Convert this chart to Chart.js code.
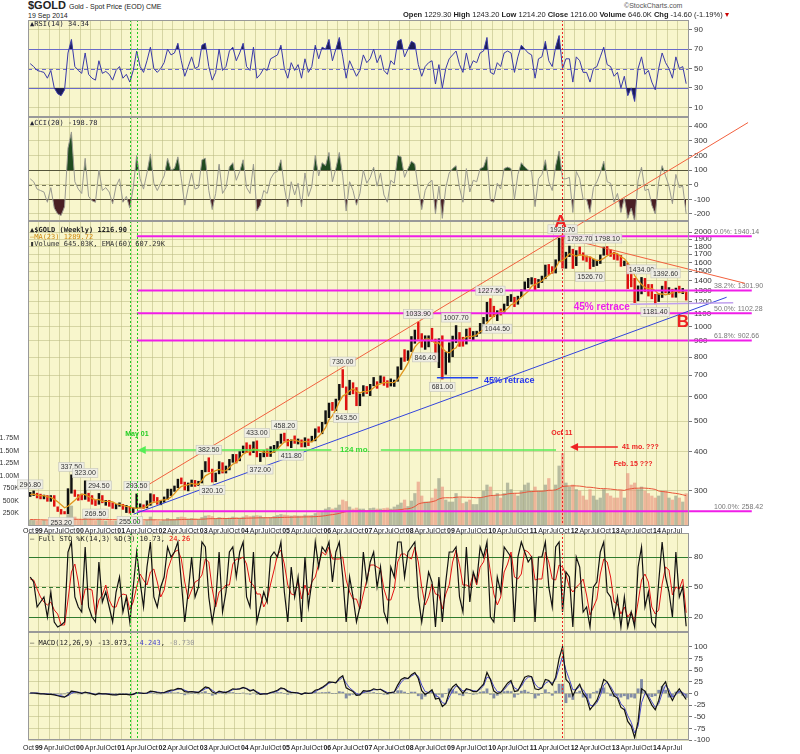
<!DOCTYPE html>
<html>
<head>
<meta charset="utf-8">
<script src="https://cdn.jsdelivr.net/npm/chart.js@4.4.1/dist/chart.umd.min.js"></script>
<style>
  body { margin: 0; background: #fff; width: 800px; height: 754px; position: relative; overflow: hidden; font-family: "Liberation Sans", Arial, sans-serif; }
  canvas { position: absolute; left: 0; }
  .t { position: absolute; white-space: nowrap; font-size: 7px; color: #222; z-index: 10; line-height: 1; }
  .m { font-family: "DejaVu Sans Mono", monospace; }
</style>
</head>
<body>
<canvas id="rsi" width="800" height="97" style="top:20px"></canvas>
<canvas id="cci" width="800" height="104" style="top:117px"></canvas>
<canvas id="sto" width="800" height="99" style="top:533px"></canvas>
<canvas id="macd" width="800" height="122" style="top:632px"></canvas>
<canvas id="price" width="800" height="440" style="top:100px"></canvas>

<div class="t" style="left:28px;top:0px;font-size:11px;font-weight:bold">$GOLD <span style="font-size:7px;font-weight:normal">Gold - Spot Price (EOD) CME</span></div>
<div class="t" style="left:28px;top:12px">19 Sep 2014</div>
<div class="t" style="left:624px;top:2px;color:#555">&copy;StockCharts.com</div>
<div class="t" style="left:403px;top:11px;font-size:7.5px"><b>Open</b> 1229.30 <b>High</b> 1243.20 <b>Low</b> 1214.20 <b>Close</b> 1216.00 <b>Volume</b> 646.0K <b>Chg</b> -14.60 (-1.19%) <span style="color:#c00">&#9662;</span></div>

<div class="t m" style="left:30px;top:21px;color:#223">&#9650;RSI(14) 34.34</div>
<div class="t m" style="left:30px;top:120px;color:#223">&#9650;CCI(20) -198.78</div>
<div class="t m" style="left:30px;top:227px;font-weight:bold">&#9650;$GOLD (Weekly) 1216.90</div>
<div class="t m" style="left:30px;top:234px;color:#d08a10">&mdash;MA(23) 1289.72</div>
<div class="t m" style="left:30px;top:241px;color:#333">&#9646;Volume 645.03K, EMA(60) 607.29K</div>
<div class="t m" style="left:30px;top:536px">&mdash; Full STO %K(14,3) %D(3) 10.73, <span style="color:#e00">24.26</span></div>
<div class="t m" style="left:30px;top:640px">&mdash; MACD(12,26,9) -13.073, <span style="color:#44c">-4.243</span>, <span style="color:#999">-8.730</span></div>

<script>
// monthly bars, Oct 1998 .. Sep 2014
const hi = [296.8, 300, 295,
  293, 291, 290, 290, 290, 267, 262, 258, 305, 337.5, 302, 292,
  293, 323, 295, 290, 280, 294.5, 290, 280, 280, 275, 272, 275,
  272, 270, 268, 265, 293.5, 273, 271, 279, 294, 292, 286, 280,
  287, 304, 304, 311, 327, 330, 320, 318, 325, 324, 322, 349,
  372, 382.5, 352, 342, 372, 369, 360, 378, 392, 392, 400, 417,
  427, 420, 430, 433, 395, 403, 408, 415, 419, 431, 455, 458.2,
  438, 436, 449, 439, 436, 443, 439, 448, 473, 480, 496, 540,
  571, 574, 588, 655, 730, 643, 675, 663, 640, 610, 649, 645,
  655, 689, 668, 697, 692, 673, 682, 676, 745, 795, 845, 838,
  930, 975, 1033.9, 950, 935, 935, 988, 913, 915, 935, 830, 888,
  933, 1007.7, 958, 925, 982, 990, 965, 967, 1024, 1070, 1195, 1227.5,
  1161, 1124, 1138, 1180, 1249, 1265, 1240, 1250, 1310, 1388, 1424, 1432,
  1424, 1413, 1448, 1570, 1577, 1552, 1632, 1913, 1923.7, 1725, 1804, 1763,
  1745, 1792.7, 1718, 1679, 1666, 1640, 1627, 1691, 1790, 1798.1, 1755, 1725,
  1697, 1684, 1617, 1590, 1487, 1424, 1348, 1434, 1424, 1362, 1362, 1267,
  1270, 1345, 1392.6, 1331, 1315, 1326, 1345, 1323, 1290];
const lo = [288, 290, 285,
  283, 283, 278, 278, 268, 258, 253.2, 253.5, 254, 295, 288, 280,
  281, 282, 278, 272, 269.5, 272, 275, 270, 268, 264, 263, 268,
  262, 256, 255, 256, 264, 265, 264, 265, 270, 278, 272, 271,
  276, 282, 290, 299, 307, 316, 302, 300, 310, 310, 312, 318,
  345, 345, 320.1, 321, 340, 342, 342, 350, 370, 368, 374, 397,
  397, 390, 397, 385, 372, 385, 386, 386, 398, 408, 425, 432,
  417, 411.8, 425, 423, 414, 414, 418, 430, 433, 461, 456, 490,
  513, 541, 540, 583, 640, 543.5, 607, 611, 560, 560, 601, 612,
  603, 648, 636, 662, 650, 641, 647, 645, 670, 730, 775, 780,
  833, 885, 911, 860, 846.4, 862, 897, 775, 740, 681, 705, 770,
  802, 890, 865, 866, 880, 915, 905, 930, 952, 998, 1040, 1075,
  1075, 1044.5, 1088, 1110, 1165, 1202, 1157, 1178, 1245, 1305, 1330, 1365,
  1309, 1330, 1381, 1420, 1462, 1478, 1481, 1611, 1535, 1533, 1670, 1531,
  1563, 1688, 1627, 1611, 1526.7, 1553, 1564, 1588, 1687, 1693, 1672, 1636,
  1627, 1555, 1562, 1321, 1338, 1192, 1208, 1271, 1292, 1251, 1226, 1181.4,
  1202, 1238, 1280, 1268, 1240, 1240, 1281, 1273, 1214.2];
const cl = [292, 294, 288,
  287, 287, 280, 286, 271, 261, 255, 254, 298, 300, 292, 290,
  284, 294, 278, 275, 273, 289, 277, 278, 274, 266, 270, 273,
  265, 267, 258, 264, 268, 270, 266, 274, 292, 279, 276, 278,
  282, 297, 302, 309, 326, 318, 304, 312, 324, 317, 318, 348,
  368, 348, 336, 339, 364, 346, 354, 375, 388, 386, 398, 416,
  401, 397, 427, 387, 393, 393, 391, 409, 416, 429, 452, 438,
  422, 435, 429, 436, 417, 436, 430, 433, 472, 470, 495, 517,
  569, 556, 583, 654, 643, 614, 633, 625, 598, 604, 646, 632,
  651, 664, 663, 677, 659, 650, 666, 672, 744, 793, 783, 834,
  923, 971, 917, 864, 886, 928, 914, 833, 880, 717, 814, 882,
  927, 942, 916, 883, 979, 927, 954, 955, 1002, 1040, 1182, 1096,
  1081, 1118, 1113, 1180, 1213, 1244, 1181, 1248, 1307, 1357, 1385, 1421,
  1332, 1409, 1439, 1563, 1536, 1502, 1628, 1825, 1620, 1710, 1746, 1566,
  1738, 1711, 1669, 1664, 1560, 1604, 1615, 1691, 1773, 1718, 1713, 1675,
  1663, 1578, 1595, 1472, 1393, 1234, 1313, 1396, 1327, 1323, 1253, 1202,
  1244, 1326, 1284, 1296, 1250, 1322, 1283, 1287, 1216];
const ma23 = [292, 293, 291,
  290, 290, 287, 286, 282, 277, 271, 265, 268, 274, 280, 287,
  293, 292, 288, 284, 281, 282, 278, 278, 278, 277, 273, 272,
  270, 268, 267, 265, 264, 265, 265, 268, 274, 276, 277, 280,
  281, 282, 287, 294, 303, 310, 312, 314, 317, 315, 315, 324,
  335, 340, 344, 348, 351, 347, 348, 356, 365, 370, 380, 393,
  398, 400, 408, 406, 401, 399, 398, 395, 400, 408, 419, 429,
  431, 435, 435, 432, 428, 431, 430, 430, 438, 448, 460, 477,
  505, 521, 544, 576, 601, 610, 625, 634, 623, 615, 621, 621,
  626, 639, 651, 657, 663, 663, 663, 665, 678, 705, 732, 765,
  815, 861, 886, 902, 912, 913, 902, 885, 888, 854, 832, 825,
  844, 856, 896, 910, 929, 929, 932, 940, 963, 976, 1027, 1055,
  1080, 1103, 1118, 1118, 1141, 1174, 1186, 1213, 1239, 1267, 1296, 1344,
  1360, 1381, 1397, 1433, 1456, 1490, 1534, 1611, 1622, 1657, 1706, 1693,
  1676, 1694, 1686, 1670, 1668, 1642, 1622, 1627, 1649, 1680, 1702, 1714,
  1708, 1669, 1645, 1597, 1540, 1454, 1401, 1362, 1333, 1319, 1322, 1300,
  1270, 1270, 1262, 1270, 1280, 1296, 1287, 1288, 1290];
// weekly volume, thousands
const vol = [120, 110, 100,
  100, 110, 100, 120, 110, 130, 140, 120, 240, 400, 180, 120,
  120, 220, 140, 120, 110, 140, 110, 100, 110, 100, 100, 100,
  110, 120, 120, 120, 180, 120, 100, 110, 180, 120, 100, 90,
  110, 150, 130, 130, 170, 180, 170, 140, 150, 140, 130, 170,
  200, 210, 190, 150, 170, 160, 150, 160, 180, 170, 160, 180,
  210, 190, 200, 210, 200, 170, 170, 170, 190, 210, 230, 220,
  210, 200, 210, 200, 200, 220, 210, 210, 250, 270, 290, 340,
  370, 340, 360, 420, 520, 490, 380, 340, 360, 340, 340, 300,
  350, 360, 340, 340, 350, 360, 340, 380, 420, 460, 520, 390,
  500, 650, 880, 600, 480, 480, 560, 740, 950, 780, 520, 480,
  480, 650, 560, 450, 480, 520, 430, 430, 560, 700, 820, 780,
  600, 650, 560, 650, 860, 730, 650, 600, 700, 820, 860, 700,
  780, 700, 700, 820, 950, 700, 820, 1200, 1450, 860, 780, 820,
  730, 700, 600, 520, 730, 600, 520, 560, 730, 650, 600, 560,
  560, 700, 560, 1050, 820, 860, 730, 780, 700, 650, 600, 560,
  600, 700, 700, 560, 520, 600, 560, 480, 646];
const volEma = [130, 128, 126,
  124, 122, 120, 120, 119, 119, 120, 120, 124, 133, 135, 134,
  133, 136, 136, 135, 134, 134, 132, 130, 129, 127, 126, 124,
  123, 123, 122, 122, 124, 124, 123, 122, 124, 124, 123, 121,
  121, 122, 123, 124, 126, 129, 131, 132, 133, 134, 134, 136,
  140, 145, 147, 147, 148, 149, 149, 150, 151, 152, 152, 153,
  156, 158, 160, 162, 164, 164, 165, 165, 166, 168, 171, 173,
  175, 176, 178, 179, 180, 182, 183, 184, 187, 192, 198, 207,
  219, 228, 238, 252, 272, 289, 297, 299, 302, 303, 304, 304,
  305, 307, 308, 309, 310, 312, 313, 315, 320, 328, 340, 343,
  360, 390, 440, 460, 470, 475, 485, 505, 540, 560, 565, 565,
  565, 575, 580, 578, 575, 575, 570, 565, 568, 578, 595, 608,
  612, 618, 620, 625, 642, 650, 655, 655, 660, 672, 685, 688,
  694, 695, 696, 702, 714, 715, 722, 750, 790, 798, 800, 804,
  802, 798, 790, 776, 775, 768, 756, 748, 748, 744, 738, 730,
  722, 720, 712, 735, 745, 755, 756, 760, 757, 752, 744, 732,
  700, 690, 682, 672, 660, 652, 640, 625, 607.29];
const rsi = [55, 52, 48,
  47, 46, 40, 48, 30, 24, 22, 28, 66, 80, 52, 48,
  45, 66, 44, 40, 38, 58, 45, 47, 44, 38, 48, 52,
  40, 44, 36, 48, 68, 52, 46, 58, 72, 50, 46, 50,
  56, 70, 64, 66, 76, 58, 42, 52, 62, 50, 52, 74,
  76, 52, 38, 46, 70, 48, 52, 68, 72, 58, 66, 76,
  52, 48, 72, 40, 44, 50, 48, 60, 62, 64, 74, 50,
  40, 56, 48, 54, 40, 60, 46, 52, 74, 60, 72, 70,
  80, 58, 70, 82, 62, 40, 58, 50, 42, 48, 64, 56,
  60, 70, 56, 64, 48, 44, 58, 54, 78, 80, 62, 70,
  78, 76, 54, 42, 52, 56, 58, 34, 54, 30, 50, 60,
  64, 68, 54, 46, 66, 50, 58, 56, 66, 68, 82, 46,
  44, 56, 52, 66, 68, 66, 46, 62, 74, 70, 66, 64,
  40, 60, 62, 78, 58, 52, 72, 84, 50, 60, 60, 36,
  62, 58, 46, 46, 36, 50, 52, 62, 72, 54, 52, 42,
  46, 30, 42, 22, 30, 16, 50, 62, 44, 48, 36, 28,
  50, 66, 56, 50, 40, 62, 50, 52, 34.34];
const cci = [40, 20, -30,
  -40, -50, -120, -20, -160, -200, -210, -150, 250, 360, 20, -30,
  -60, 180, -80, -110, -120, 100, -40, -20, -50, -130, -10, 40,
  -120, -80, -160, -20, 200, 40, -30, 80, 210, 10, -40, 10,
  60, 180, 100, 110, 190, 40, -140, -20, 80, -30, -20, 170,
  180, -40, -170, -60, 140, -60, -20, 120, 150, 30, 90, 170,
  -20, -60, 140, -180, -140, -40, -60, 40, 80, 90, 170, -20,
  -150, 20, -70, 10, -150, 80, -80, -10, 200, 60, 150, 130,
  220, 20, 110, 220, 60, -180, 20, -40, -140, -60, 100, 10,
  50, 120, -10, 80, -70, -120, 30, 10, 200, 190, 50, 110,
  160, 140, -30, -170, -40, 10, 30, -200, -10, -230, -20, 80,
  110, 130, -20, -120, 110, -50, 30, 20, 110, 120, 190, -110,
  -120, 10, -30, 110, 120, 110, -100, 70, 150, 120, 100, 90,
  -150, 40, 70, 170, 20, -40, 130, 230, 40, 40, 50, -190,
  90, 40, -100, -100, -190, -20, 20, 80, 160, 20, 10, -120,
  -60, -190, -90, -230, -160, -250, 30, 120, -40, -30, -140, -200,
  20, 130, 60, -10, -130, 70, -20, -10, -198.78];
const stoK = [60, 55, 30,
  35, 40, 20, 45, 15, 10, 12, 15, 85, 95, 40, 30,
  25, 90, 30, 20, 15, 75, 35, 45, 30, 15, 45, 60,
  25, 40, 15, 50, 85, 55, 30, 70, 95, 40, 30, 50,
  60, 90, 80, 85, 95, 55, 15, 45, 80, 40, 50, 95,
  90, 40, 15, 35, 85, 25, 45, 85, 90, 60, 85, 95,
  40, 30, 85, 15, 30, 45, 35, 80, 85, 80, 95, 45,
  15, 70, 40, 60, 15, 80, 30, 55, 95, 70, 90, 85,
  95, 55, 85, 95, 60, 15, 60, 40, 15, 30, 85, 55,
  75, 85, 50, 70, 25, 15, 70, 60, 95, 95, 60, 85,
  90, 95, 40, 15, 40, 65, 55, 10, 60, 15, 55, 85,
  85, 90, 40, 25, 90, 35, 65, 55, 90, 80, 95, 20,
  15, 60, 45, 90, 85, 80, 15, 80, 95, 85, 75, 80,
  15, 80, 80, 95, 50, 30, 90, 95, 25, 65, 60, 10,
  80, 70, 25, 30, 10, 50, 55, 85, 95, 45, 40, 20,
  40, 10, 40, 10, 25, 10, 70, 90, 30, 45, 15, 10,
  55, 95, 60, 45, 20, 85, 40, 50, 10.73];
const stoD = [58, 57, 48,
  40, 35, 32, 35, 27, 23, 12, 12, 37, 65, 73, 55,
  32, 48, 48, 47, 22, 37, 42, 52, 37, 30, 30, 40,
  43, 42, 27, 35, 50, 63, 57, 52, 65, 68, 55, 40,
  47, 67, 77, 85, 87, 78, 55, 38, 47, 55, 57, 62,
  78, 75, 48, 30, 45, 48, 52, 52, 73, 78, 78, 80,
  73, 55, 52, 43, 43, 30, 37, 53, 67, 82, 87, 73,
  52, 43, 42, 57, 38, 52, 42, 55, 60, 73, 85, 82,
  90, 78, 78, 78, 80, 57, 45, 38, 38, 28, 43, 57,
  72, 72, 70, 68, 48, 37, 37, 48, 75, 83, 83, 80,
  78, 90, 75, 50, 32, 40, 53, 43, 42, 28, 43, 52,
  75, 87, 72, 52, 52, 50, 63, 52, 70, 75, 88, 65,
  43, 32, 40, 65, 73, 85, 60, 58, 63, 87, 85, 80,
  57, 58, 58, 85, 75, 58, 57, 72, 70, 62, 50, 45,
  50, 53, 58, 42, 22, 30, 38, 63, 78, 75, 60, 35,
  33, 23, 30, 20, 25, 15, 35, 57, 63, 55, 30, 23,
  27, 53, 70, 67, 42, 50, 48, 58, 24.26];
const macd = [1, 1, 0,
  -1, -1, -2, -2, -3, -5, -7, -8, -3, 5, 4, 2,
  0, 3, 1, -1, -3, 0, -1, -1, -2, -3, -3, -2,
  -2, -2, -3, -2, 2, 1, 0, 1, 5, 4, 2, 1,
  2, 5, 7, 8, 11, 10, 4, 3, 4, 3, 2, 8,
  14, 12, 3, 0, 5, 3, 2, 6, 10, 9, 10, 13,
  10, 5, 8, 2, -2, -1, -1, 2, 4, 7, 12, 10,
  4, 2, 2, 1, -2, 1, 0, 1, 7, 9, 13, 18,
  25, 24, 23, 33, 38, 12, 8, 4, -4, -3, 6, 5,
  6, 10, 8, 9, 4, 0, 2, 3, 18, 30, 34, 32,
  40, 45, 32, 6, -2, 2, 8, -12, -10, -28, -22, 2,
  14, 20, 10, 0, 10, 8, 4, 4, 12, 20, 45, 30,
  5, 0, 2, 12, 22, 28, 4, 6, 20, 35, 38, 36,
  10, 8, 12, 30, 28, 18, 35, 75, 100, 30, 22, -5,
  10, 20, 0, -10, -35, -25, -15, 5, 30, 25, 10, -5,
  -10, -30, -35, -60, -70, -95, -60, 10, 5, -10, -25, -35,
  -15, 15, 25, 0, -15, 0, 10, -2, -13.073];
const macdSig = [1, 1, 1,
  0, -1, -1, -2, -2, -4, -5, -7, -5, 0, 3, 3,
  1, 2, 2, 0, -2, -1, -1, -1, -1, -2, -3, -2,
  -2, -2, -2, -2, 0, 1, 0, 0, 3, 4, 3, 2,
  2, 3, 5, 7, 9, 10, 7, 4, 4, 3, 3, 6,
  10, 12, 7, 2, 3, 3, 3, 4, 8, 9, 10, 12,
  11, 7, 7, 4, 0, -1, -1, 1, 3, 5, 10, 10,
  6, 3, 2, 1, -1, 0, 0, 1, 4, 8, 11, 16,
  22, 24, 23, 29, 35, 22, 12, 6, 0, -3, 2, 4,
  5, 8, 8, 9, 6, 2, 2, 3, 12, 24, 31, 32,
  37, 42, 37, 18, 4, 2, 5, -4, -8, -20, -22, -8,
  6, 16, 13, 5, 8, 8, 6, 5, 9, 16, 35, 32,
  15, 4, 3, 8, 17, 24, 12, 8, 15, 28, 35, 36,
  20, 12, 12, 22, 26, 22, 30, 55, 80, 50, 30, 8,
  8, 15, 8, -4, -25, -27, -20, -5, 18, 24, 15, 2,
  -6, -22, -30, -48, -62, -85, -70, -20, 0, -5, -18, -30,
  -22, 0, 18, 8, -8, -3, 5, 2, -4.243];
const macdHist = [0, 0, -1,
  -1, 0, -1, 0, -1, -1, -2, -1, 2, 5, 1, -1,
  -1, 1, -1, -1, -1, 1, 0, 0, -1, -1, 0, 0,
  0, 0, -1, 0, 2, 0, 0, 1, 2, 0, -1, -1,
  0, 2, 2, 1, 2, 0, -3, -1, 0, 0, -1, 2,
  4, 0, -4, -2, 2, 0, -1, 2, 2, 0, 0, 1,
  -1, -2, 1, -2, -2, 0, 0, 1, 1, 2, 2, 0,
  -2, -1, 0, 0, -1, 1, 0, 0, 3, 1, 2, 2,
  3, 0, 0, 4, 3, -10, -4, -2, -4, 0, 4, 1,
  1, 2, 0, 0, -2, -2, 0, 0, 6, 6, 3, 0,
  3, 3, -5, -12, -6, 0, 3, -8, -2, -8, 0, 10,
  8, 4, -3, -5, 2, 0, -2, -1, 3, 4, 10, -2,
  -10, -4, -1, 4, 5, 4, -8, -2, 5, 7, 3, 0,
  -10, -4, 0, 8, 2, -4, 5, 20, 20, -20, -8, -13,
  2, 5, -8, -6, -10, 2, 5, 10, 12, 1, -5, -7,
  -4, -8, -5, -12, -8, -10, 10, 30, 5, -5, -7, -5,
  7, 15, 7, -8, -7, 3, 5, -4, -8.73];

// tick labels / levels
const priceTicks = [300, 400, 500, 600, 700, 800, 900, 1000, 1100, 1200, 1300, 1400, 1500, 1600, 1700, 1800, 1900, 2000];
const volTicks = [250, 500, 750, 1000, 1250, 1500, 1750];
const rsiTicks = [10, 30, 50, 70, 90];
const cciTicks = [-200, -100, 0, 100, 200, 300, 400];
const stoTicks = [20, 50, 80];
const macdTicks = [-100, -75, -50, -25, 0, 25, 50, 75, 100];
const fibLevels = [1940.14, 1301.90, 1102.28, 902.66, 258.42];
const fibNames = ['0.0%', '38.2%', '50.0%', '61.8%', '100.0%'];
// [month index, which end of the bar]
const peakLabels = [[0, 'hi'], [9, 'lo'], [12, 'hi'], [16, 'hi'], [19, 'lo'], [20, 'hi'], [29, 'lo'], [31, 'hi'],
  [52, 'hi'], [53, 'lo'], [66, 'hi'], [67, 'lo'], [74, 'hi'], [76, 'lo'], [91, 'hi'], [92, 'lo'],
  [113, 'hi'], [115, 'lo'], [120, 'lo'], [124, 'hi'], [134, 'hi'], [136, 'lo'], [155, 'hi'],
  [160, 'hi'], [163, 'lo'], [168, 'hi'], [178, 'hi'], [182, 'lo'], [185, 'hi']];

const FONT = '"Liberation Sans", Arial, sans-serif';
const PANEL_BG = '#f8f6cc';
const GRID = 'rgba(185,185,130,0.55)';
const X_MIN = 1998.738, X_MAX = 2014.777;
const dates = cl.map((_, i) => 1998 + (9.5 + i) / 12);
const quarterTicks = [];
for (let q = 0; 1998.75 + q * 0.25 <= 2014.6; q++) quarterTicks.push(1998.75 + q * 0.25);
const MON = { 0: 'Jan', 3: 'Apr', 6: 'Jul', 9: 'Oct' };
const monthOf = v => Math.round((v - Math.floor(v)) * 12);
const pts = arr => arr.map((v, i) => ({ x: dates[i], y: v }));

function xScale(show, h, pad) {
  return {
    type: 'linear', min: X_MIN, max: X_MAX, offset: false,
    afterBuildTicks: s => { s.ticks = quarterTicks.map(v => ({ value: v })); },
    grid: { color: GRID, drawTicks: false, offset: false },
    border: { display: false },
    ticks: {
      display: show, autoSkip: false, maxRotation: 0, minRotation: 0, padding: pad, color: '#222',
      font: ctx => ({ size: 7, family: FONT, weight: ctx.tick && monthOf(ctx.tick.value) === 0 ? 'bold' : 'normal' }),
      callback: v => monthOf(v) === 0 ? String(Math.floor(v)).slice(2) : MON[monthOf(v)]
    },
    afterFit: s => { s.height = h; s.paddingLeft = 0; s.paddingRight = 0; }
  };
}
function yRight(min, max, tickVals, extra) {
  return Object.assign({
    position: 'right', min: min, max: max,
    afterBuildTicks: s => { s.ticks = tickVals.map(v => ({ value: v })); },
    grid: { color: GRID, tickColor: '#777', tickLength: 3 },
    border: { display: false },
    ticks: { font: { size: 8, family: FONT }, color: '#333', padding: 2, callback: v => String(v) },
    afterFit: s => { s.width = 40; s.paddingTop = 0; s.paddingBottom = 0; }
  }, extra || {});
}

// panel background, level lines, dotted date markers, frame
const panelPlugin = {
  id: 'panel',
  beforeDraw(chart) {
    const a = chart.chartArea, ctx = chart.ctx;
    ctx.save(); ctx.fillStyle = PANEL_BG; ctx.fillRect(a.left, a.top, a.width, a.height); ctx.restore();
  },
  beforeDatasetsDraw(chart, args, o) {
    const a = chart.chartArea, ctx = chart.ctx, y = chart.scales.y;
    ctx.save();
    (o.hlines || []).forEach(h => {
      const py = Math.round(y.getPixelForValue(h.v)) + 0.5;
      ctx.strokeStyle = h.c; ctx.lineWidth = h.w || 1; ctx.setLineDash(h.dash ? [4, 3] : []);
      ctx.beginPath(); ctx.moveTo(a.left, py); ctx.lineTo(a.right, py); ctx.stroke();
    });
    ctx.restore();
  },
  afterDraw(chart) {
    const a = chart.chartArea, ctx = chart.ctx, x = chart.scales.x;
    ctx.save();
    ctx.lineWidth = 1; ctx.setLineDash([2, 2]);
    [[2001.21, '#22cc22'], [2001.38, '#22cc22'], [2011.69, '#ee2222']].forEach(([d, c]) => {
      const px = Math.round(x.getPixelForValue(d)) + 0.5;
      ctx.strokeStyle = c; ctx.beginPath(); ctx.moveTo(px, a.top); ctx.lineTo(px, a.bottom); ctx.stroke();
    });
    ctx.setLineDash([]); ctx.strokeStyle = '#999';
    ctx.strokeRect(a.left + 0.5, a.top + 0.5, a.width - 1, a.height - 1);
    ctx.restore();
  }
};

// trend lines, fib levels and notes on the price panel
const segs = [
  { a: [2001.41, 300], b: [2016.21, 4460], c: '#f2603e', w: 1 },
  { a: [2011.69, 1923.7], b: [2016.13, 1374], c: '#f2603e', w: 1 },
  { a: [2001.3, 253], b: [2015.69, 1240], c: '#3344dd', w: 1 },
  { a: [2013.35, 1178], b: [2015.85, 1190], c: '#c0a0ee', w: 1.5 },
  { a: [2001.45, 405], b: [2006.1, 405], c: '#55ee55', w: 1.5, arrow: true },
  { a: [2007.3, 405], b: [2011.55, 405], c: '#55ee55', w: 1.5 },
  { a: [2011.94, 414], b: [2013.05, 414], c: '#ee2222', w: 1.5, arrow: true },
  { a: [2008.66, 687], b: [2009.66, 687], c: '#2244ee', w: 1.5 }
];
const notes = [
  { t: 'A', d: 2011.66, v: 2150, c: '#ee2222', f: 'bold 17px ' + FONT },
  { t: 'B', d: 2014.63, v: 1031, c: '#ee2222', f: 'bold 17px ' + FONT },
  { t: '45% retrace', d: 2011.98, v: 1150, c: '#ee22ee', f: 'bold 10px ' + FONT, al: 'left' },
  { t: '45% retrace', d: 2009.8, v: 672, c: '#2233ee', f: 'bold 9px ' + FONT, al: 'left' },
  { t: 'May 01', d: 2001.38, v: 456, c: '#22cc22', f: 'bold 7px ' + FONT },
  { t: '124 mo.', d: 2006.67, v: 405, c: '#33dd33', f: 'bold 8px ' + FONT },
  { t: 'Oct 11', d: 2011.69, v: 458, c: '#ee2222', f: 'bold 7px ' + FONT },
  { t: '41 mo. ???', d: 2013.15, v: 414, c: '#ee2222', f: 'bold 7px ' + FONT, al: 'left' },
  { t: 'Feb. 15 ???', d: 2012.95, v: 365, c: '#ee2222', f: 'bold 7px ' + FONT, al: 'left' }
];
const pricePlugin = {
  id: 'priceDeco',
  afterDatasetsDraw(chart) {
    const ctx = chart.ctx, x = chart.scales.x, y = chart.scales.y, a = chart.chartArea;
    ctx.save();
    // fib levels
    fibLevels.forEach((lv, k) => {
      const py = y.getPixelForValue(lv);
      ctx.strokeStyle = '#f01ee8'; ctx.lineWidth = 2;
      ctx.beginPath(); ctx.moveTo(x.getPixelForValue(2001.38), py); ctx.lineTo(x.getPixelForValue(2016.3), py); ctx.stroke();
      ctx.fillStyle = '#777'; ctx.font = '7px ' + FONT; ctx.textAlign = 'left'; ctx.textBaseline = 'bottom';
      ctx.fillText(fibNames[k] + ': ' + lv.toFixed(2), a.right + 25, py - 1);
    });
    segs.forEach(s => {
      const x1 = x.getPixelForValue(s.a[0]), y1 = y.getPixelForValue(s.a[1]);
      const x2 = x.getPixelForValue(s.b[0]), y2 = y.getPixelForValue(s.b[1]);
      ctx.strokeStyle = s.c; ctx.lineWidth = s.w;
      ctx.beginPath(); ctx.moveTo(x1, y1); ctx.lineTo(x2, y2); ctx.stroke();
      if (s.arrow) {
        ctx.fillStyle = s.c; ctx.beginPath();
        ctx.moveTo(x1 - 2, y1); ctx.lineTo(x1 + 6, y1 - 4); ctx.lineTo(x1 + 6, y1 + 4); ctx.closePath(); ctx.fill();
      }
    });
    // high / low value tags
    ctx.font = '7px ' + FONT; ctx.textAlign = 'center'; ctx.textBaseline = 'middle';
    peakLabels.forEach(([i, side]) => {
      const v = side === 'hi' ? hi[i] : lo[i];
      const px = x.getPixelForValue(dates[i]), py = y.getPixelForValue(v);
      const txt = v.toFixed(2), w = ctx.measureText(txt).width + 4;
      const ty = side === 'hi' ? py - 8 : py + 8;
      ctx.fillStyle = 'rgba(238,238,232,0.9)'; ctx.fillRect(px - w / 2, ty - 4.5, w, 9);
      ctx.strokeStyle = '#c4c4bc'; ctx.lineWidth = 0.6; ctx.strokeRect(px - w / 2, ty - 4.5, w, 9);
      ctx.fillStyle = '#333'; ctx.fillText(txt, px, ty + 0.5);
    });
    notes.forEach(n => {
      ctx.font = n.f; ctx.fillStyle = n.c; ctx.textAlign = n.al || 'center'; ctx.textBaseline = 'middle';
      ctx.fillText(n.t, x.getPixelForValue(n.d), y.getPixelForValue(n.v));
    });
    ctx.restore();
  }
};

function baseOpts(pad, scales, deco) {
  return {
    responsive: false, animation: false,
    layout: { padding: pad },
    scales: scales,
    plugins: { legend: { display: false }, tooltip: { enabled: false }, panel: deco || {} },
    elements: { point: { radius: 0 }, line: { borderWidth: 1, tension: 0 } }
  };
}
const PAD = { left: 28, right: 71, top: 0, bottom: 0 };

try {
  // RSI
  new Chart(document.getElementById('rsi'), {
    type: 'line',
    data: { datasets: [
      { data: pts(rsi), borderColor: '#3a3aa8', borderWidth: 1, fill: false },
      { data: pts(rsi), borderWidth: 0, fill: { target: { value: 70 }, above: '#1c1c58', below: 'rgba(0,0,0,0)' } },
      { data: pts(rsi), borderWidth: 0, fill: { target: { value: 30 }, above: 'rgba(0,0,0,0)', below: '#1c1c58' } }
    ] },
    options: baseOpts(PAD, { x: xScale(false, 0, 0), y: yRight(0, 100, rsiTicks) },
      { hlines: [{ v: 70, c: '#6a6ac8' }, { v: 30, c: '#6a6ac8' }, { v: 50, c: '#6a6ac8', dash: true }] }),
    plugins: [panelPlugin]
  });

  // CCI
  new Chart(document.getElementById('cci'), {
    type: 'line',
    data: { datasets: [
      { data: pts(cci), borderColor: '#9a9a90', borderWidth: 1, fill: false },
      { data: pts(cci), borderWidth: 0, fill: { target: { value: 100 }, above: '#1f4a1f', below: 'rgba(0,0,0,0)' } },
      { data: pts(cci), borderWidth: 0, fill: { target: { value: -100 }, above: 'rgba(0,0,0,0)', below: '#4a1f24' } }
    ] },
    options: baseOpts(PAD, { x: xScale(false, 0, 0), y: yRight(-248, 462, cciTicks) },
      { hlines: [{ v: 100, c: '#55553a' }, { v: -100, c: '#55553a' }, { v: 0, c: '#77775a', dash: true }] }),
    plugins: [panelPlugin]
  });

  // Full STO
  new Chart(document.getElementById('sto'), {
    type: 'line',
    data: { datasets: [
      { data: pts(stoK), borderColor: '#111', borderWidth: 1.2 },
      { data: pts(stoD), borderColor: '#e31515', borderWidth: 1 }
    ] },
    options: baseOpts(PAD, { x: xScale(false, 0, 0), y: yRight(5, 104, stoTicks) },
      { hlines: [{ v: 80, c: '#2f7a2f' }, { v: 20, c: '#2f7a2f' }, { v: 50, c: '#2f7a2f', dash: true }] }),
    plugins: [panelPlugin]
  });

  // MACD
  new Chart(document.getElementById('macd'), {
    type: 'line',
    data: { datasets: [
      { data: pts(macd), borderColor: '#111', borderWidth: 1.2, order: 1 },
      { data: pts(macdSig), borderColor: '#4a4ad0', borderWidth: 1, order: 2 },
      { type: 'bar', data: pts(macdHist), backgroundColor: 'rgba(80,95,150,0.7)', barThickness: 2.2, grouped: false, order: 3 }
    ] },
    options: baseOpts({ left: 28, right: 71, top: 0, bottom: 0 }, { x: xScale(true, 14, 4), y: yRight(-100, 132, macdTicks) }, {}),
    plugins: [panelPlugin]
  });

  // Price + volume
  const candleColors = cl.map((c, i) => (i > 0 && c < cl[i - 1]) ? '#e01010' : '#111');
  const volColors = cl.map((c, i) => (i > 0 && c < cl[i - 1]) ? 'rgba(232,140,120,0.6)' : 'rgba(140,148,128,0.6)');
  const priceOpts = baseOpts({ left: 0, right: 71, top: 121, bottom: 4 }, {
    x: xScale(true, 10, 1),
    y: yRight(232, 2168, priceTicks, { type: 'logarithmic' }),
    yv: {
      position: 'left', min: 0, max: 6100,
      afterBuildTicks: s => { s.ticks = volTicks.map(v => ({ value: v })); },
      grid: { display: false }, border: { display: false },
      ticks: { font: { size: 7, family: FONT }, color: '#333', padding: 1,
        callback: v => v < 1000 ? v + 'K' : (v / 1000).toFixed(2) + 'M' },
      afterFit: s => { s.width = 28; s.paddingTop = 0; s.paddingBottom = 0; }
    }
  }, {});
  new Chart(document.getElementById('price'), {
    type: 'bar',
    data: { datasets: [
      { type: 'line', data: pts(ma23), borderColor: '#e0951c', borderWidth: 1.3, yAxisID: 'y', order: 1 },
      { type: 'bar', data: dates.map((d, i) => ({ x: d, y: [lo[i], hi[i]] })), backgroundColor: candleColors,
        barThickness: 1.8, grouped: false, yAxisID: 'y', order: 2 },
      { type: 'line', data: pts(volEma), borderColor: '#e8553a', borderWidth: 1, yAxisID: 'yv', order: 3 },
      { type: 'bar', data: pts(vol), backgroundColor: volColors, barThickness: 2.6, grouped: false, yAxisID: 'yv', order: 4 }
    ] },
    options: priceOpts,
    plugins: [panelPlugin, pricePlugin]
  });
} catch (error) {
  console.error('Error building chart:', error);
}
</script>
</body>
</html>
